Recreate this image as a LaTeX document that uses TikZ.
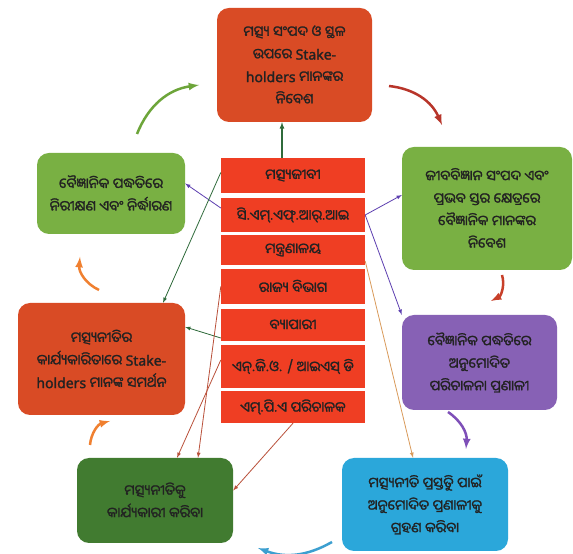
\documentclass[tikz,border=0pt]{standalone}
\usepackage{fontspec}
\usepackage{tikz}
\newfontfamily\odia[Script=Oriya,FakeBold=1.6]{Noto Sans Oriya UI}
\newfontfamily\latn[FakeBold=1.6]{Noto Sans}
\definecolor{box_red}{HTML}{D94B25}
\definecolor{row_red}{HTML}{EF3E23}
\definecolor{lg_green}{HTML}{79B043}
\definecolor{dk_green}{HTML}{417B30}
\definecolor{mg_purple}{HTML}{8761B5}
\definecolor{sk_blue}{HTML}{2BA7DA}
\definecolor{txt_grey}{HTML}{222222}
\definecolor{ar_dred}{HTML}{B8352A}
\definecolor{ar_red}{HTML}{C8402A}
\definecolor{ar_purple}{HTML}{7E4FB8}
\definecolor{ar_blue}{HTML}{3C9FD0}
\definecolor{ar_orange}{HTML}{F08030}
\definecolor{ar_green}{HTML}{6DA53A}
\definecolor{ln_purple}{HTML}{5D3FB0}
\definecolor{ln_green}{HTML}{2F6B3B}
\definecolor{ln_brown}{HTML}{D99A5A}
\definecolor{ln_red}{HTML}{B9503A}
\tikzstyle{box}=[rectangle,rounded corners=12pt,text=txt_grey,align=center,
  inner sep=2pt,font=\odia\fontsize{14}{22.5}\selectfont]
\tikzstyle{rw}=[rectangle,fill=row_red,text=txt_grey,minimum width=144pt,
  inner sep=0pt,font=\odia\fontsize{14}{22.5}\selectfont]
\tikzstyle{cyc}=[->,line width=2.5pt]
\tikzstyle{thin}=[->,line width=0.8pt]
\tikzstyle{none}=[]

\begin{document}
\begin{tikzpicture}[x=1pt, y=1pt, >=latex]
    \useasboundingbox [fill=white] (0,0) rectangle (573,554);
    \node [style=box, fill=box_red, minimum width=155pt, minimum height=114pt] (0) at (294.5, 489) {ମତ୍ସ୍ୟ ସଂପଦ ଓ ସ୍ଥଳ\\ଉପରେ {\latn Stake-}\\{\latn holders} ମାନଙ୍କର\\ନିବେଶ};
    \node [style=box, fill=lg_green, minimum width=170pt, minimum height=123pt] (1) at (487, 345.5) {ଜୀବବିଜ୍ଞାନ ସଂପଦ ଏବଂ\\ପ୍ରଭବ ସ୍ତର କ୍ଷେତ୍ରରେ\\ବୈଜ୍ଞାନିକ ମାନଙ୍କର\\ନିବେଶ};
    \node [style=box, fill=mg_purple, minimum width=155pt, minimum height=95pt] (2) at (479.5, 191.5) {ବୈଜ୍ଞାନିକ ପଦ୍ଧତିରେ\\ଅନୁମୋଦିତ\\ପରିଚାଳନା ପ୍ରଣାଳୀ};
    \node [style=box, fill=sk_blue, minimum width=166pt, minimum height=93pt] (3) at (425, 49.5) {ମତ୍ସ୍ୟନୀତି ପ୍ରସ୍ତୁତି ପାଇଁ\\ଅନୁମୋଦିତ ପ୍ରଣାଳୀକୁ\\ଗ୍ରହଣ କରିବା};
    \node [style=box, fill=dk_green, minimum width=156pt, minimum height=85pt] (4) at (155, 53.5) {ମତ୍ସ୍ୟନୀତିକୁ\\କାର୍ଯ୍ୟକାରୀ କରିବା};
    \node [style=box, fill=box_red, minimum width=167pt, minimum height=112pt] (5) at (101.5, 195) {ମତ୍ସ୍ୟନୀତିର\\କାର୍ଯ୍ୟକାରିତାରେ {\latn Stake-}\\{\latn holders} ମାନଙ୍କ ସମର୍ଥନ};
    \node [style=box, fill=lg_green, minimum width=148pt, minimum height=81pt] (6) at (111, 360.5) {ବୈଜ୍ଞାନିକ ପଦ୍ଧତିରେ\\ନିରୀକ୍ଷଣ ଏବଂ ନିର୍ଦ୍ଧାରଣ};
    \node [style=rw, minimum height=35pt] (7) at (293, 378.5) {ମତ୍ସ୍ୟଜୀବୀ};
    \node [style=rw, minimum height=34pt] (8) at (293, 339) {ସି.ଏମ୍.ଏଫ୍.ଆର୍.ଆଇ};
    \node [style=rw, minimum height=30pt] (9) at (293, 304) {ମନ୍ତ୍ରଣାଳୟ};
    \node [style=rw, minimum height=35pt] (10) at (293, 267.5) {ରାଜ୍ୟ ବିଭାଗ};
    \node [style=rw, minimum height=32pt] (11) at (293, 229) {ବ୍ୟାପାରୀ};
    \node [style=rw, minimum height=43pt] (12) at (293, 187.5) {ଏନ୍.ଜି.ଓ. / ଆଇଏସ୍ ଡି};
    \node [style=rw, minimum height=32pt] (13) at (293, 147) {ଏମ୍.ପି.ଏ ପରିଚାଳକ};
    \coordinate (20) at (389, 468);
    \coordinate (21) at (442, 429);
    \coordinate (22) at (502, 279);
    \coordinate (23) at (491, 253);
    \coordinate (24) at (448, 142);
    \coordinate (25) at (466, 105);
    \coordinate (26) at (332, 12);
    \coordinate (27) at (258, 6);
    \coordinate (28) at (90, 109);
    \coordinate (29) at (110, 133);
    \coordinate (30) at (99, 264);
    \coordinate (31) at (80, 297);
    \coordinate (32) at (137, 420);
    \coordinate (33) at (199, 469);
    \draw [style=cyc, ar_dred, bend left=30] (20) to (21);
    \draw [style=cyc, ar_red, bend left=40] (22) to (23);
    \draw [style=cyc, ar_purple, bend left=30] (24) to (25);
    \draw [style=cyc, ar_blue, bend left=25] (26) to (27);
    \draw [style=cyc, ar_orange, bend left=35] (28) to (29);
    \draw [style=cyc, ar_orange, bend left=35] (30) to (31);
    \draw [style=cyc, ar_green, bend left=30] (32) to (33);
    \draw [style=thin, ln_green, line width=1.2pt] ([xshift=-11pt]7.north) to ([xshift=-12.5pt]0.south);
    \draw [style=thin, ln_purple] ([yshift=7pt]8.west) to ([yshift=10pt]6.east);
    \draw [style=thin, ln_purple] (8.east) to ([yshift=13.5pt]1.west);
    \draw [style=thin, ln_purple] (8.east) to (2.north west);
    \draw [style=thin, ln_green] ([yshift=3pt]7.west) to ([xshift=61.5pt]5.north);
    \draw [style=thin, ln_green] ([yshift=-13pt]11.west) to ([yshift=32pt]5.east);
    \draw [style=thin, ln_brown] ([yshift=-11pt]9.east) to ([xshift=-12pt]3.north);
    \draw [style=thin, ln_red] (10.west) to ([xshift=43pt]4.north);
    \draw [style=thin, ln_red] ([yshift=6.5pt]12.west) to ([xshift=22pt]4.north);
    \draw [style=thin, ln_red] (13.south) to ([yshift=10pt]4.east);
\end{tikzpicture}
\end{document}
